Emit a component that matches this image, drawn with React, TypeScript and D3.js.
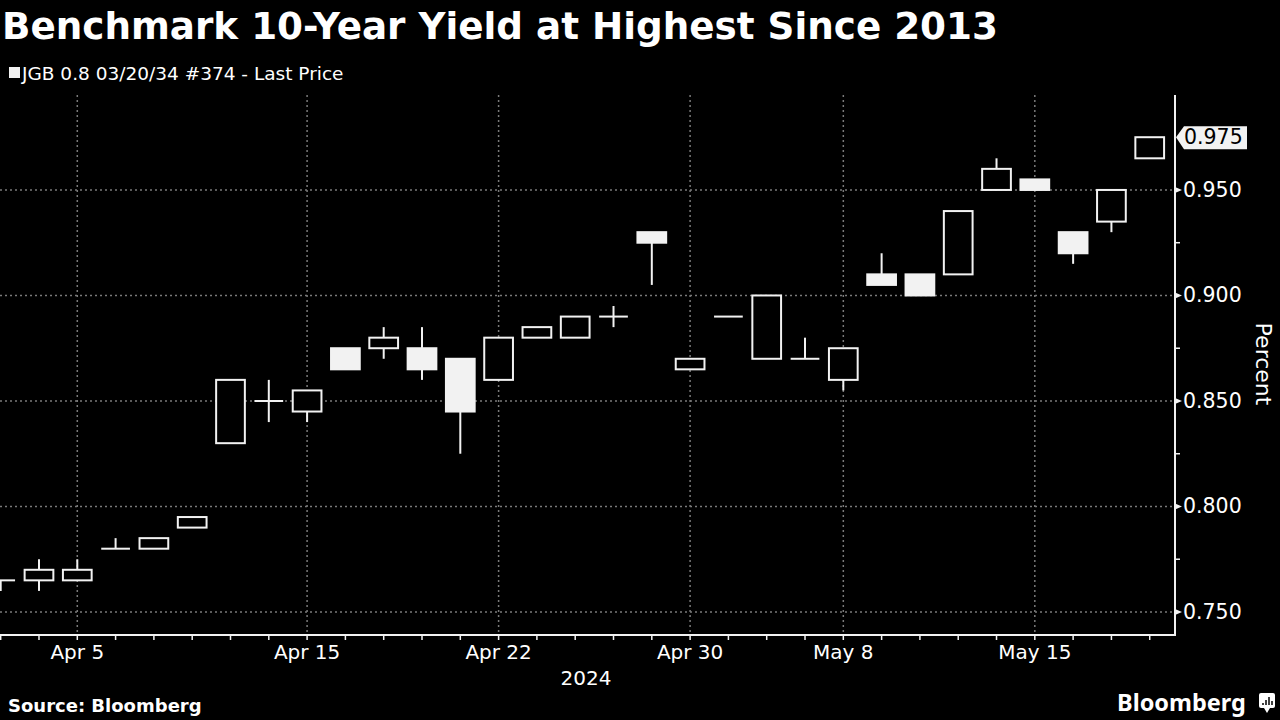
import * as d3 from 'd3';

// trading days shown (Japan holidays Apr 29, May 3, May 6 skipped)
const dates = [
  '2024-04-03', '2024-04-04', '2024-04-05', '2024-04-08', '2024-04-09', '2024-04-10',
  '2024-04-11', '2024-04-12', '2024-04-15', '2024-04-16', '2024-04-17', '2024-04-18',
  '2024-04-19', '2024-04-22', '2024-04-23', '2024-04-24', '2024-04-25', '2024-04-26',
  '2024-04-30', '2024-05-01', '2024-05-02', '2024-05-07', '2024-05-08', '2024-05-09',
  '2024-05-10', '2024-05-13', '2024-05-14', '2024-05-15', '2024-05-16', '2024-05-17',
  '2024-05-20',
];
const opens = [
  0.765, 0.765, 0.765, 0.78, 0.78, 0.79, 0.83, 0.85, 0.845, 0.875, 0.875, 0.875,
  0.87, 0.86, 0.88, 0.88, 0.89, 0.93, 0.865, 0.89, 0.87, 0.87, 0.86, 0.91,
  0.91, 0.91, 0.95, 0.955, 0.93, 0.935, 0.965,
];
const highs = [
  0.765, 0.775, 0.775, 0.785, 0.785, 0.795, 0.86, 0.86, 0.855, 0.875, 0.885, 0.885,
  0.87, 0.88, 0.885, 0.89, 0.895, 0.93, 0.87, 0.89, 0.9, 0.88, 0.875, 0.92,
  0.91, 0.94, 0.965, 0.955, 0.93, 0.95, 0.975,
];
const lows = [
  0.76, 0.76, 0.765, 0.78, 0.78, 0.79, 0.83, 0.84, 0.84, 0.865, 0.87, 0.86,
  0.825, 0.86, 0.88, 0.88, 0.885, 0.905, 0.865, 0.89, 0.87, 0.87, 0.855, 0.905,
  0.9, 0.91, 0.95, 0.95, 0.915, 0.93, 0.965,
];
const closes = [
  0.765, 0.77, 0.77, 0.78, 0.785, 0.795, 0.86, 0.85, 0.855, 0.865, 0.88, 0.865,
  0.845, 0.88, 0.885, 0.89, 0.89, 0.925, 0.87, 0.89, 0.9, 0.87, 0.875, 0.905,
  0.9, 0.94, 0.96, 0.95, 0.92, 0.95, 0.975,
];
const xLabels = [
  { date: '2024-04-05', text: 'Apr 5' },
  { date: '2024-04-15', text: 'Apr 15' },
  { date: '2024-04-22', text: 'Apr 22' },
  { date: '2024-04-30', text: 'Apr 30' },
  { date: '2024-05-08', text: 'May 8' },
  { date: '2024-05-15', text: 'May 15' },
];
const yMajor = [0.75, 0.8, 0.85, 0.9, 0.95];
const yMinor = [0.775, 0.825, 0.875, 0.925];
const lastPrice = 0.975;

const W = 1280;
const H = 720;
const plot = { left: 0, right: 1175, top: 95, bottom: 635 };
const FONT = '"DejaVu Sans", sans-serif';
const LOGO_FONT = '"Noto Sans", "Open Sans", sans-serif';

export default function App() {
  const x = d3.scaleLinear().domain([-0.018, 30.66]).range([plot.left, plot.right]);
  const y = d3.scaleLinear().domain([0.7391, 0.995]).range([plot.bottom, plot.top]);
  const step = x(1) - x(0);
  const bodyW = step * 0.75;
  const idx = (d: string) => dates.indexOf(d);
  const grid = '#7a7a7a';
  const fg = '#f2f2f2';

  return (
    <div style={{ position: 'fixed', left: 0, top: 0, width: W, height: H, background: '#000' }}>
      <svg width={W} height={H} style={{ display: 'block', background: '#000' }}>
        <defs>
          <clipPath id="plotClip">
            <rect x={plot.left} y={plot.top - 10} width={plot.right - plot.left} height={plot.bottom - plot.top + 10} />
          </clipPath>
        </defs>

        {/* title & legend */}
        <text x={2} y={39} fill="#fff" fontFamily={FONT} fontWeight={700} fontSize={37.3}>
          Benchmark 10-Year Yield at Highest Since 2013
        </text>
        <rect x={9} y={67} width={11} height={11} fill={fg} />
        <text x={22} y={80} fill="#fff" fontFamily={FONT} fontSize={18.5}>
          JGB 0.8 03/20/34 #374 - Last Price
        </text>

        {/* gridlines */}
        {yMajor.map((v) => (
          <line key={'gy' + v} x1={plot.left} x2={plot.right} y1={y(v)} y2={y(v)}
            stroke={grid} strokeWidth={1.5} strokeDasharray="2,3" />
        ))}
        {xLabels.map((l) => (
          <line key={'gx' + l.date} x1={x(idx(l.date))} x2={x(idx(l.date))} y1={plot.top} y2={plot.bottom}
            stroke={grid} strokeWidth={1.5} strokeDasharray="2,3" />
        ))}

        {/* candles */}
        <g clipPath="url(#plotClip)">
          {dates.map((d, i) => {
            const cx = x(i);
            const o = opens[i];
            const c = closes[i];
            const filled = c < o;
            const top = y(Math.max(o, c));
            const bot = y(Math.min(o, c));
            return (
              <g key={d}>
                {highs[i] > Math.max(o, c) && (
                  <line x1={cx} x2={cx} y1={y(highs[i])} y2={top} stroke={fg} strokeWidth={2} />
                )}
                {lows[i] < Math.min(o, c) && (
                  <line x1={cx} x2={cx} y1={bot} y2={y(lows[i])} stroke={fg} strokeWidth={2} />
                )}
                {o === c ? (
                  <line x1={cx - bodyW / 2} x2={cx + bodyW / 2} y1={top} y2={top} stroke={fg} strokeWidth={2} />
                ) : (
                  <rect x={cx - bodyW / 2} y={top} width={bodyW} height={bot - top}
                    fill={filled ? fg : '#000'} stroke={fg} strokeWidth={2} />
                )}
              </g>
            );
          })}
        </g>

        {/* x axis */}
        <line x1={plot.left} x2={plot.right + 1} y1={plot.bottom} y2={plot.bottom} stroke={fg} strokeWidth={2} />
        {dates.map((d, i) => (
          <line key={'tx' + d} x1={x(i)} x2={x(i)} y1={plot.bottom} y2={plot.bottom + 5} stroke={fg} strokeWidth={1.5} />
        ))}
        {xLabels.map((l) => (
          <text key={'lx' + l.date} x={x(idx(l.date))} y={659} textAnchor="middle" fill="#fff"
            fontFamily={FONT} fontSize={20}>
            {l.text}
          </text>
        ))}
        <text x={586} y={685} textAnchor="middle" fill="#fff" fontFamily={FONT} fontSize={20}>
          2024
        </text>

        {/* y axis (right) */}
        <line x1={plot.right} x2={plot.right} y1={plot.top} y2={plot.bottom + 1} stroke={fg} strokeWidth={2} />
        {yMinor.map((v) => (
          <line key={'my' + v} x1={plot.right} x2={plot.right + 5} y1={y(v)} y2={y(v)} stroke={fg} strokeWidth={1.5} />
        ))}
        {yMajor.map((v) => (
          <g key={'ty' + v}>
            <path d={`M${plot.right},${y(v) - 3}L${plot.right + 7},${y(v)}L${plot.right},${y(v) + 3}Z`} fill={fg} />
            <text x={plot.right + 8} y={y(v) + 7} fill="#fff" fontFamily={FONT} fontSize={20.5}>
              {d3.format('.3f')(v)}
            </text>
          </g>
        ))}
        {/* last price tag */}
        <path
          d={`M${plot.right + 1},${y(lastPrice)}L${plot.right + 9},${y(lastPrice) - 11}L${plot.right + 72},${y(lastPrice) - 11}L${plot.right + 72},${y(lastPrice) + 12}L${plot.right + 9},${y(lastPrice) + 12}Z`}
          fill={fg}
        />
        <text x={plot.right + 9} y={y(lastPrice) + 7} fill="#000" fontFamily={FONT} fontSize={20.5}>
          {d3.format('.3f')(lastPrice)}
        </text>
        <text transform={`translate(1256,${(plot.top + plot.bottom) / 2 - 1}) rotate(90)`} textAnchor="middle"
          fill="#fff" fontFamily={FONT} fontSize={22}>
          Percent
        </text>

        {/* footer */}
        <text x={8} y={712} fill="#fff" fontFamily={FONT} fontWeight={700} fontSize={18}>
          Source: Bloomberg
        </text>
        <text x={1117} y={711} fill="#fff" fontFamily={LOGO_FONT} fontWeight={700} fontSize={23.5}>
          Bloomberg
        </text>
        <rect x={1259} y={693} width={16} height={15} rx={2} fill="#fff" />
        <path d="M1264,708L1267,713L1270,708Z" fill="#fff" />
        <g stroke="#000" strokeWidth={1.5}>
          <line x1={1263} x2={1263} y1={703} y2={705} />
          <line x1={1266} x2={1266} y1={700} y2={705} />
          <line x1={1269} x2={1269} y1={697} y2={705} />
          <line x1={1272} x2={1272} y1={701} y2={705} />
        </g>
      </svg>
    </div>
  );
}
